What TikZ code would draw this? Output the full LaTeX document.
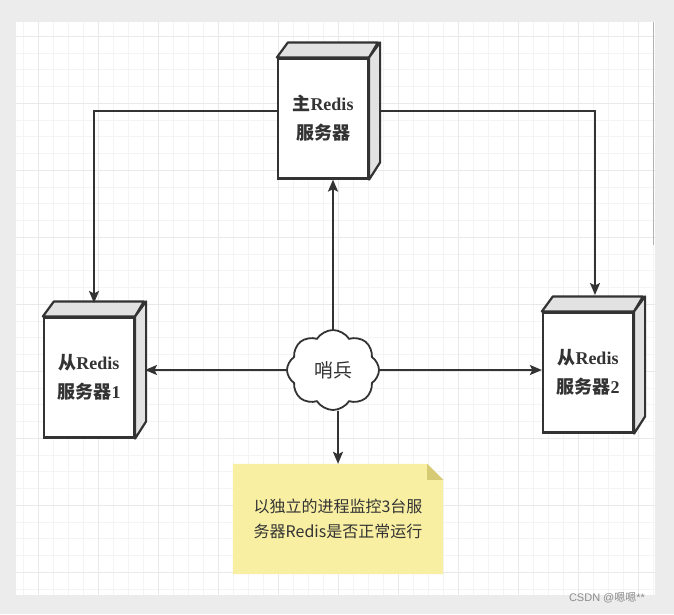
\documentclass[tikz,border=0pt]{standalone}
\usepackage{fontspec}
\setmainfont{Liberation Serif}
\newfontfamily\cjk{Noto Sans CJK SC}
\usetikzlibrary{arrows.meta,shapes.symbols}

\definecolor{pagegray}{HTML}{ECECEC}
\definecolor{gridminor}{HTML}{F4F4F4}
\definecolor{gridmajor}{HTML}{E9E9E9}
\definecolor{inkgray}{HTML}{333333}
\definecolor{facegray}{HTML}{E2E2E2}
\definecolor{notefill}{HTML}{F8EFA2}
\definecolor{notefold}{HTML}{D6CB74}

\pgfdeclarelayer{bg}
\pgfsetlayers{bg,main}

\tikzset{
    server/.style={draw=inkgray, line width=2.2pt, fill=white,
        minimum width=90, minimum height=120, inner sep=0pt,
        align=center, text=inkgray, font=\fontsize{18}{29}\selectfont\bfseries},
    face/.style={draw=inkgray, line width=2.2pt, fill=facegray, line join=round},
    sentinel/.style={cloud, cloud puffs=8, cloud puff arc=115, cloud ignores aspect,
        draw=inkgray, line width=1.8pt, fill=white, minimum width=92, minimum height=80,
        text=inkgray, font=\cjk\fontsize{19}{22}\selectfont},
    notebox/.style={minimum width=210, minimum height=110, inner sep=0pt,
        align=center, text=inkgray, font=\cjk\fontsize{16}{25}\selectfont},
    link/.style={draw=inkgray, line width=2pt,
        -{Stealth[length=12pt,width=10pt,inset=2.5pt]}}
}

\begin{document}
\begin{tikzpicture}[x=1pt,y=-1pt]
    \useasboundingbox (0,0) rectangle (674,614);

    % canvas with grid
    \begin{pgfonlayer}{bg}
        \fill[pagegray] (0,0) rectangle (674,614);
        \fill[white] (16,22) rectangle (655,595);
        \foreach \gx in {23,38,...,653}
            \draw[gridminor, line width=0.9pt] (\gx,22) -- (\gx,595);
        \foreach \gy in {36.25,53,...,595}
            \draw[gridminor, line width=0.9pt] (16,\gy) -- (655,\gy);
        \foreach \gx in {38,98,...,653}
            \draw[gridmajor, line width=0.9pt] (\gx,22) -- (\gx,595);
        \foreach \gy in {36,103,...,595}
            \draw[gridmajor, line width=0.9pt] (16,\gy) -- (655,\gy);
        \draw[black!30, line width=1pt] (653,22) -- (653,245);
    \end{pgfonlayer}

    % servers
    \node[server] (master) at (323,118.5) {{\cjk 主}Redis\\{\cjk 服务器}};
    \node[server] (slave1) at (89,377.5) {{\cjk 从}Redis\\{\cjk 服务器}1};
    \node[server] (slave2) at (588,372.5) {{\cjk 从}Redis\\{\cjk 服务器}2};
    \foreach \s in {master,slave1,slave2} {
        \filldraw[face] (\s.north west) -- ++(11,-15) -- ++(90,0) -- (\s.north east) -- cycle;
        \filldraw[face] (\s.north east) -- ++(11,-15) -- ++(0,120) -- (\s.south east) -- cycle;
    }

    % sentinel and note
    \node[sentinel] (sentinel) at (333,370) {哨兵};
    \node[notebox] (note) at (338,519) {以独立的进程监控3台服\\务器Redis是否正常运行};
    \begin{pgfonlayer}{bg}
        \fill[notefill] (note.south west) -- (note.north west) -- ([xshift=-16pt]note.north east)
            -- ([yshift=-16pt]note.north east) -- (note.south east) -- cycle;
        \fill[notefold] ([xshift=-16pt]note.north east) -- ([yshift=-16pt]note.north east)
            -- ([xshift=-16pt,yshift=-16pt]note.north east) -- cycle;
    \end{pgfonlayer}

    \coordinate (s1top) at (94,303);
    \coordinate (s2top) at (595,295);
    \coordinate (s1side) at (145,370);

    % connectors
    \draw[link] ([yshift=8pt]master.west) -| (s1top);
    \draw[link] ([xshift=11pt,yshift=8pt]master.east) -| (s2top);
    \draw[link] (sentinel.north) -- (sentinel.north |- master.south);
    \draw[link] (sentinel.west) -- (sentinel.west -| s1side);
    \draw[link] (sentinel.east) -- (sentinel.east -| slave2.west);
    \draw[link] (sentinel.south -| note.north) -- (note.north);

    \node[text=black!45, font=\fontspec{Liberation Sans}\fontsize{11}{13}\selectfont] (mark) at (607,598)
        {CSDN @{\cjk 嗯嗯}**};
\end{tikzpicture}
\end{document}
